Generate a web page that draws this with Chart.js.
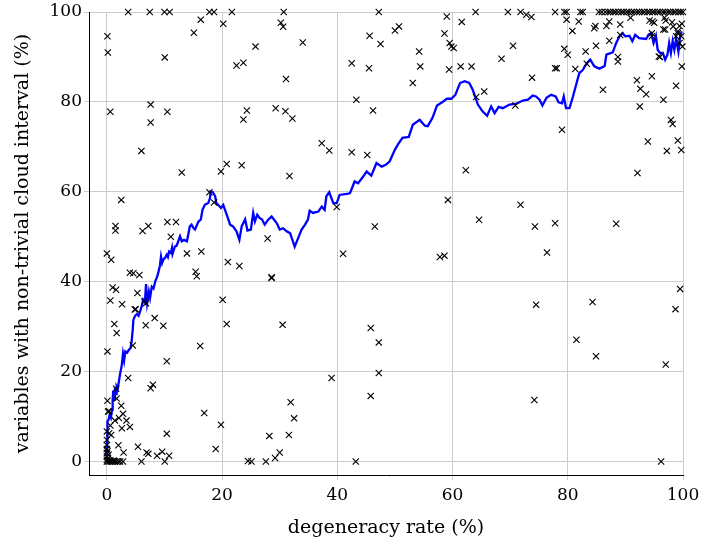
<!DOCTYPE html>
<html>
<head>
<meta charset="utf-8">
<script src="https://cdn.jsdelivr.net/npm/chart.js@4.4.1/dist/chart.umd.min.js"></script>
<style>
    html, body { margin: 0; padding: 0; background: #ffffff; }
    #wrap { width: 701px; height: 543px; }
</style>
</head>
<body>
<div id="wrap"><canvas id="chart"></canvas></div>
<script>
// degeneracy rate (%) vs. share of variables with a non-trivial cloud interval (%)
const tickValues = [0, 20, 40, 60, 80, 100];

// one cross per instance: [degeneracy rate, non-trivial share]
const instancesTopRow = [
    [3.7, 100], [7.45, 100], [10.0, 100], [10.9, 100], [17.8, 100], [18.6, 100], [21.7, 100],
    [30.7, 100], [47.2, 100], [64.0, 100], [69.6, 100], [71.8, 100], [77.8, 100], [79.4, 100],
    [79.8, 100], [82.2, 100], [82.6, 100], [85.4, 100], [85.9, 100], [86.5, 100], [87.0, 100],
    [87.4, 100], [87.9, 100], [88.3, 100], [88.8, 100], [89.3, 100], [89.7, 100], [90.2, 100],
    [90.6, 100], [91.1, 100], [91.5, 100], [92.0, 100], [92.4, 100], [92.9, 100], [93.3, 100],
    [93.8, 100], [94.2, 100], [94.7, 100], [95.1, 100], [95.6, 100], [96.0, 100], [96.5, 100],
    [96.9, 100], [97.4, 100], [97.8, 100], [98.3, 100], [98.7, 100], [99.2, 100], [99.6, 100],
    [100, 100]
];

const instancesUpper = [
    [0.1, 94.6], [0.17, 91.0], [15.1, 95.4], [16.3, 98.3], [20.2, 97.4], [10.05, 89.9], [22.5, 88.1],
    [23.7, 88.7], [25.8, 92.3], [30.2, 97.6], [30.6, 96.7], [31.1, 85.1], [34.0, 93.2], [59.0, 99.0],
    [72.8, 99.4], [73.7, 98.9], [79.8, 98.3], [81.9, 97.9], [80.8, 95.8], [84.8, 96.9], [84.6, 96.4],
    [86.7, 96.9], [87.2, 97.9], [89.1, 97.2], [90.9, 98.7], [94.7, 97.9], [95.0, 97.6], [96.8, 98.7],
    [96.6, 96.1], [98.1, 97.7], [98.3, 96.8], [99.4, 96.9], [99.8, 97.4], [45.6, 94.7], [47.5, 92.9],
    [50.0, 95.9], [50.7, 96.8], [58.6, 95.2], [59.5, 93.1], [59.8, 92.3], [60.2, 92.0], [61.6, 97.8],
    [70.5, 92.5], [68.5, 89.6], [54.2, 91.2], [54.4, 87.9], [45.5, 87.5], [42.5, 88.6], [59.4, 87.2],
    [61.4, 87.9], [63.3, 87.9], [77.8, 87.5], [78.1, 87.5], [73.8, 85.4], [79.4, 91.8], [80.0, 90.5],
    [83.1, 91.2], [84.9, 92.5], [87.2, 93.6], [88.7, 90.0], [88.7, 89.0], [83.3, 88.5], [81.3, 87.3],
    [53.1, 84.2], [64.1, 81.1], [65.5, 82.3], [43.3, 80.5], [86.1, 82.7], [92.0, 84.8], [92.6, 82.9],
    [93.6, 81.7], [94.6, 85.7], [96.6, 80.5], [98.8, 83.6], [99.8, 87.9], [94.2, 98.1], [97.0, 98.1],
    [94.6, 95.3], [94.6, 94.6], [96.9, 96.1], [99.1, 95.3], [99.7, 94.6], [95.8, 90.1], [96.0, 90.0],
    [99.9, 92.3], [89.1, 94.9], [98.8, 94.6], [99.4, 93.1], [99.1, 95.7]
];

const instancesMiddle = [
    [0.6, 77.8], [7.6, 79.4], [7.6, 75.4], [10.5, 77.8], [6.0, 69.1], [13.0, 64.3], [19.8, 64.5],
    [20.8, 66.2], [23.4, 65.9], [23.7, 76.1], [24.3, 78.1], [29.3, 78.6], [31.0, 77.9], [32.2, 76.3],
    [31.7, 63.5], [37.3, 70.8], [38.6, 69.2], [46.2, 78.1], [70.9, 79.2], [79.0, 73.8], [92.5, 79.0],
    [97.9, 76.0], [98.2, 75.1], [93.9, 71.2], [97.2, 69.1], [99.1, 71.4], [99.7, 69.3], [92.1, 64.2],
    [42.5, 68.8], [45.2, 68.2], [62.3, 64.8], [17.8, 59.9], [18.6, 57.6],
    [39.9, 56.6], [27.9, 49.6], [2.5, 58.2], [1.5, 52.4], [1.5, 51.4], [6.2, 51.3], [7.2, 52.4],
    [10.5, 53.3], [12.0, 53.3], [11.1, 50.0], [0.0, 46.3], [0.75, 44.9], [13.9, 46.3], [16.4, 46.7],
    [21.0, 44.4], [23.0, 43.5], [41.0, 46.2], [4.0, 42.0], [4.6, 41.9], [5.65, 41.5], [15.4, 42.2],
    [15.6, 41.2], [28.6, 41.0], [59.2, 58.2], [71.8, 57.1], [46.5, 52.3], [64.6, 53.8], [74.3, 52.3],
    [77.8, 53.0], [88.4, 52.9], [57.8, 45.5], [58.6, 45.8], [76.4, 46.5]
];

const instancesLower = [
    [0.1, 24.5], [0.6, 35.8], [1.0, 38.7], [1.6, 38.2], [1.3, 30.6], [1.7, 28.6], [2.65, 35.0],
    [5.3, 37.5], [4.85, 33.8], [5.0, 33.9], [6.5, 35.6], [6.8, 35.2], [4.5, 25.8], [6.75, 30.3],
    [8.3, 31.9], [9.8, 30.2], [10.4, 22.3], [16.2, 25.7], [20.1, 36.0], [20.8, 30.6], [30.5, 30.4],
    [28.6, 40.8], [45.8, 29.7], [47.2, 26.5], [74.5, 34.9], [84.3, 35.5], [81.5, 27.1], [84.9, 23.4],
    [99.5, 38.4], [98.7, 33.9], [97.0, 21.6],
    [3.7, 18.6], [7.6, 16.3], [8.0, 17.1], [1.6, 16.2], [1.7, 14.0], [0.1, 13.5], [0.4, 11.2],
    [2.5, 12.4], [2.8, 10.6], [1.4, 9.1], [2.1, 9.7], [3.4, 9.1], [4.0, 7.7], [2.6, 7.4],
    [0.6, 8.0], [0.4, 6.3], [0.75, 5.9], [5.4, 3.3], [2.0, 3.6], [2.9, 2.0], [6.9, 2.0],
    [7.2, 1.7], [8.7, 1.3], [9.6, 2.2], [10.8, 1.3], [6.0, 0], [10.05, 0], [2.8, 0],
    [10.4, 6.2], [16.9, 10.8], [18.9, 2.8], [19.8, 8.2], [24.5, 0.1], [25.1, 0], [27.6, 0],
    [28.2, 5.7], [29.2, 0.8], [30.0, 2.0], [31.6, 5.9], [31.9, 13.2], [32.5, 9.6], [39.0, 18.6],
    [47.2, 19.7], [45.8, 14.6], [43.2, 0], [74.2, 13.7], [96.2, 0],
    [0, 0.4], [0, 1.1], [0, 1.9], [0, 2.8], [0, 3.7], [0, 4.8], [0, 6.7], [0.2, 11.1],
    [0.1, 2.3], [0.3, 1.5], [0.2, 0.8], [0, 0], [0.2, 0], [0.5, 0], [0.8, 0], [1.1, 0],
    [1.4, 0], [1.7, 0], [2.0, 0], [2.3, 0], [0.6, 0.3], [1.2, 0.2]
];

// running mean over the instances sorted by degeneracy rate
const runningMean = [
    [0, 0.5], [0.05, 5], [0.1, 9], [0.3, 9.3], [0.5, 10.5], [0.7, 9.8], [0.9, 11.5], [1.0, 13.5],
    [1.1, 15.8], [1.3, 13.8], [1.4, 16.5], [1.6, 15.0], [1.7, 16.7], [1.9, 16.2], [2.0, 17.1],
    [2.3, 19.5], [2.6, 21.5], [2.8, 24.0], [3.0, 22.5], [3.2, 24.5], [3.5, 24.2], [3.8, 24.8],
    [4.1, 25.2], [4.3, 26.7], [4.5, 29.5], [4.6, 31.5], [4.9, 32.4], [5.2, 32.8], [5.5, 32.4],
    [5.8, 33.5], [6.1, 34.8], [6.3, 36.0], [6.6, 35.4], [6.8, 39.5], [7.0, 35.3], [7.3, 37.8],
    [7.5, 36.4], [7.8, 38.9], [8.1, 38.5], [8.4, 40.1], [8.7, 41.0], [8.9, 41.9], [9.2, 43.5],
    [9.4, 45.6], [9.6, 44.2], [9.8, 44.9], [10.1, 45.3], [10.4, 46.0], [10.6, 45.5], [10.8, 46.7],
    [11.1, 46.4], [11.3, 47.5], [11.4, 46.2], [11.8, 47.8], [12.1, 48.0], [12.4, 49.0], [12.7, 50.1],
    [13.0, 49.0], [13.4, 49.3], [13.9, 49.0], [14.4, 52.3], [14.7, 52.7], [15.0, 52.0], [15.3, 51.6],
    [15.9, 53.4], [16.3, 53.8], [16.6, 56.0], [17.0, 57.1], [17.6, 57.5], [17.9, 58.6], [18.0, 60.1],
    [18.4, 59.9], [18.8, 59.0], [19.0, 57.5], [19.3, 57.1], [19.8, 56.4], [20.2, 57.1], [20.8, 54.9],
    [21.4, 52.7], [21.9, 52.3], [22.5, 51.2], [23.0, 49.3], [23.4, 52.3], [24.0, 53.9], [24.4, 51.4],
    [25.0, 51.6], [25.4, 55.3], [25.7, 53.4], [26.1, 54.9], [26.5, 54.2], [26.9, 53.9], [27.4, 52.7],
    [28.0, 53.8], [28.6, 54.5], [29.5, 53.0], [30.0, 51.6], [30.6, 51.9], [31.2, 51.2], [31.8, 50.8],
    [32.2, 49.3], [32.6, 47.8], [33.2, 49.7], [33.8, 51.6], [34.4, 52.7], [34.9, 53.8], [35.2, 55.8],
    [35.8, 55.3], [36.7, 55.6], [37.3, 56.7], [37.8, 56.0], [38.1, 59.0], [38.6, 59.9], [39.3, 57.5],
    [39.9, 57.5], [40.4, 59.3], [41.9, 59.6], [42.2, 59.7], [43.0, 62.3], [43.6, 61.9], [44.5, 63.4],
    [45.1, 64.5], [45.9, 63.6], [46.8, 66.4], [47.7, 65.6], [48.4, 66.0], [49.1, 66.8], [50.0, 69.4],
    [50.5, 70.5], [51.3, 72.0], [52.4, 72.2], [53.1, 74.9], [54.3, 76.0], [55.2, 74.7], [55.7, 74.6],
    [56.5, 76.4], [57.3, 79.2], [58.2, 79.9], [59.0, 80.7], [59.8, 80.7], [60.5, 81.6], [61.3, 84.2],
    [62.1, 84.6], [62.9, 84.2], [63.5, 82.7], [64.4, 79.4], [65.2, 77.9], [66.0, 76.9], [66.7, 79.0],
    [67.3, 77.5], [68.0, 78.9], [68.7, 78.6], [69.9, 79.4], [71.1, 79.6], [72.2, 80.3], [73.1, 80.5],
    [73.9, 81.4], [74.5, 81.2], [75.1, 80.5], [75.6, 79.2], [76.3, 80.9], [77.1, 81.6], [77.9, 81.2],
    [78.4, 79.9], [79.0, 79.7], [79.3, 81.2], [79.7, 78.6], [80.3, 78.6], [80.9, 81.2], [82.0, 86.4],
    [82.6, 87.1], [83.3, 88.6], [83.9, 89.4], [84.6, 87.9], [85.5, 87.4], [86.4, 88.0], [86.7, 90.5],
    [87.8, 91.0], [88.4, 93.1], [89.0, 94.6], [89.5, 95.3], [90.0, 94.6], [90.7, 94.7], [91.2, 93.5],
    [91.7, 94.9], [92.4, 94.2], [93.6, 94.0], [94.0, 94.9], [94.5, 95.3], [94.9, 93.1], [95.3, 94.7],
    [95.6, 91.6], [96.0, 90.9], [96.5, 90.9], [96.9, 89.4], [97.3, 90.5], [97.6, 93.1], [97.9, 90.9],
    [98.2, 93.5], [98.5, 91.6], [98.8, 94.0], [99.2, 91.2], [99.5, 94.6], [99.8, 95.7]
];

const toXY = (pairs) => pairs.map(([x, y]) => ({ x, y }));

const serif = "'DejaVu Serif', 'Liberation Serif', serif";
const gridColor = '#cccccc';

const allInstances = [...instancesTopRow, ...instancesUpper, ...instancesMiddle, ...instancesLower];

new Chart(document.getElementById('chart'), {
    type: 'scatter',
    data: {
        datasets: [{
            label: 'instances',
            data: toXY(allInstances),
            pointStyle: 'crossRot',
            pointRadius: 4.4,
            pointBorderWidth: 1.1,
            borderColor: '#000000',
            backgroundColor: '#000000',
            clip: false,
            order: 0
        }, {
            label: 'running mean',
            data: toXY(runningMean),
            showLine: true,
            borderColor: '#0000ff',
            borderWidth: 2.3,
            pointRadius: 0,
            tension: 0,
            order: 1
        }]
    },
    options: {
        responsive: true,
        maintainAspectRatio: false,
        animation: false,
        layout: { padding: { left: 0, right: 18, top: 12, bottom: 0 } },
        plugins: {
            legend: { display: false },
            tooltip: { enabled: false }
        },
        scales: {
            x: {
                type: 'linear',
                min: -3.1,
                max: 100,
                afterBuildTicks: (scale) => { scale.ticks = tickValues.map((v) => ({ value: v })); },
                afterFit: (scale) => {
                    scale.height = 68;
                    scale.paddingLeft = 0;
                    scale.paddingRight = 0;
                },
                grid: { color: gridColor, lineWidth: 1, tickLength: 5, tickColor: gridColor },
                border: { display: true, color: '#000000', width: 1 },
                ticks: { color: '#000000', padding: 5, maxRotation: 0, font: { family: serif, size: 17 } },
                title: {
                    display: true,
                    text: 'degeneracy rate (%)',
                    color: '#000000',
                    padding: { top: 0, bottom: 4 },
                    font: { family: serif, size: 19 }
                }
            },
            y: {
                type: 'linear',
                min: -3,
                max: 100,
                afterBuildTicks: (scale) => { scale.ticks = tickValues.map((v) => ({ value: v })); },
                afterFit: (scale) => {
                    scale.width = 89;
                    scale.paddingTop = 0;
                    scale.paddingBottom = 0;
                },
                grid: { color: gridColor, lineWidth: 1, tickLength: 5, tickColor: gridColor },
                border: { display: true, color: '#000000', width: 1 },
                ticks: { color: '#000000', padding: 2, font: { family: serif, size: 17 } },
                title: {
                    display: true,
                    text: 'variables with non-trivial cloud interval (%)',
                    color: '#000000',
                    padding: { top: 12, bottom: 0 },
                    font: { family: serif, size: 19 }
                }
            }
        }
    }
});
</script>
</body>
</html>
